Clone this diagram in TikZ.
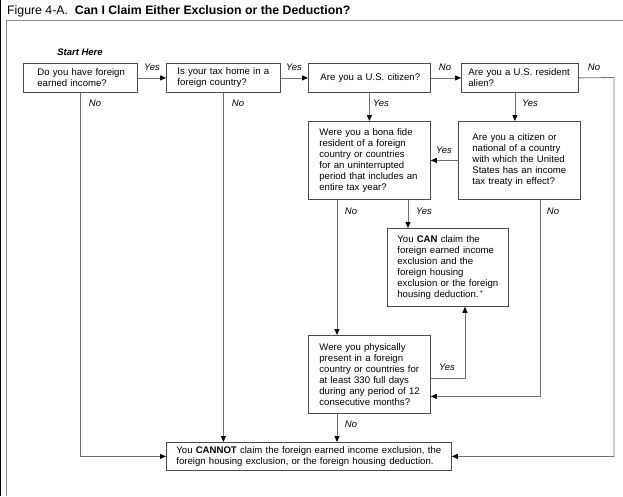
\documentclass[tikz,border=0pt]{standalone}
\usepackage{fontspec}
\setmainfont{Liberation Sans}
\usetikzlibrary{arrows.meta}
\tikzset{
  qbox/.style={draw=black!70, line width=0.8pt, anchor=north west, align=left,
    inner xsep=0pt, inner ysep=0pt, font=\fontsize{9.6}{11}\selectfont,
    execute at begin node={\leftskip=#1\relax}},
  qbox/.default=11pt,
  flow/.style={draw=black!55, line width=0.8pt,
    -{Triangle[length=6pt,width=5pt,color=black]}},
  ans/.style={font=\fontsize{9.5}{11}\selectfont\itshape}
}
\begin{document}
\begin{tikzpicture}[x=1pt,y=-1pt]
\useasboundingbox (0,0) rectangle (623,496);

% frame and title
\draw[line width=1.5pt] (0.5,0) -- (0.5,496);
\draw[black!45, line width=1pt] (6,496) -- (6,20) -- (623,20);
\node[anchor=west, inner sep=0pt, font=\fontsize{12.3}{14}\selectfont] (title) at (7,11)
  {Figure 4-A.\ \ \textbf{Can I Claim Either Exclusion or the Deduction?}};
\node[font=\fontsize{9.5}{11}\selectfont\bfseries\itshape] (start) at (80,52) {Start Here};

% first row
\node[qbox=14pt, text width=114pt, minimum height=29pt] (income) at (23,63)
  {Do you have foreign\\earned income?};
\node[qbox, text width=114pt, minimum height=29pt] (taxhome) at (166,63)
  {Is your tax home in a\\foreign country?};
\node[qbox=12pt, text width=122pt, minimum height=29pt] (citizen) at (308,63)
  {Are you a U.S. citizen?};
\node[qbox=7pt, text width=117pt, minimum height=29pt] (resident) at (461,63)
  {Are you a U.S. resident\\alien?};

% second row
\node[qbox, text width=122pt, minimum height=78pt] (bonafide) at (308,121)
  {Were you a bona fide\\resident of a foreign\\country or countries\\for an uninterrupted\\period that includes an\\entire tax year?};
\node[qbox=14pt, text width=122pt, minimum height=78pt] (treaty) at (458,121)
  {Are you a citizen or\\national of a country\\with which the United\\States has an income\\tax treaty in effect?};

% results and last test
\node[qbox=10pt, text width=121pt, minimum height=78pt] (can) at (387,228)
  {You \textbf{CAN} claim the\\foreign earned income\\exclusion and the\\foreign housing\\exclusion or the foreign\\housing deduction.\,\raisebox{2pt}{\scriptsize*}};
\node[qbox, text width=122pt, minimum height=78pt] (physical) at (308,335)
  {Were you physically\\present in a foreign\\country or countries for\\at least 330 full days\\during any period of 12\\consecutive months?};
\node[qbox=10pt, text width=285pt, minimum height=28pt] (cannot) at (166,442)
  {You \textbf{CANNOT} claim the foreign earned income exclusion, the\\foreign housing exclusion, or the foreign housing deduction.};

% connectors
\draw[flow] (income) -- (taxhome);
\draw[flow] (taxhome) -- (citizen);
\draw[flow] (citizen) -- (resident);
\draw[flow] (resident.east) -- (614,77.5) |- (cannot.east);
\draw[flow] (income.south) |- (cannot.west);
\draw[flow] (taxhome.south) -- (taxhome.south |- cannot.north);
\draw[flow] (citizen) -- (bonafide);
\draw[flow] ([xshift=-5pt]resident.south) -- ([xshift=-5pt]resident.south |- treaty.north);
\draw[flow] (treaty) -- (bonafide);
\draw[flow] ([xshift=29pt]bonafide.south west) -- ([xshift=29pt]physical.north west);
\draw[flow] ([xshift=100pt]bonafide.south west) -- ([xshift=100pt]bonafide.south west |- can.north);
\draw[flow] ([xshift=82pt]treaty.south west) |- ([yshift=-22pt]physical.east);
\draw[flow] ([yshift=-4pt]physical.east) -| ([xshift=78pt]can.south west);
\draw[flow] ([xshift=29pt]physical.south west) -- ([xshift=29pt]physical.south west |- cannot.north);

% answers
\node[ans] (y1) at (152,67) {Yes};
\node[ans] (y2) at (294,67) {Yes};
\node[ans] (n1) at (445,67) {No};
\node[ans] (n2) at (594,67) {No};
\node[ans] (n3) at (95,103) {No};
\node[ans] (n4) at (238,103) {No};
\node[ans] (y3) at (381,103) {Yes};
\node[ans] (y4) at (530,103) {Yes};
\node[ans] (y5) at (444,150) {Yes};
\node[ans] (n5) at (351,211) {No};
\node[ans] (y6) at (424,211) {Yes};
\node[ans] (n6) at (553,211) {No};
\node[ans] (y7) at (447,367) {Yes};
\node[ans] (n7) at (351,424) {No};
\end{tikzpicture}
\end{document}
